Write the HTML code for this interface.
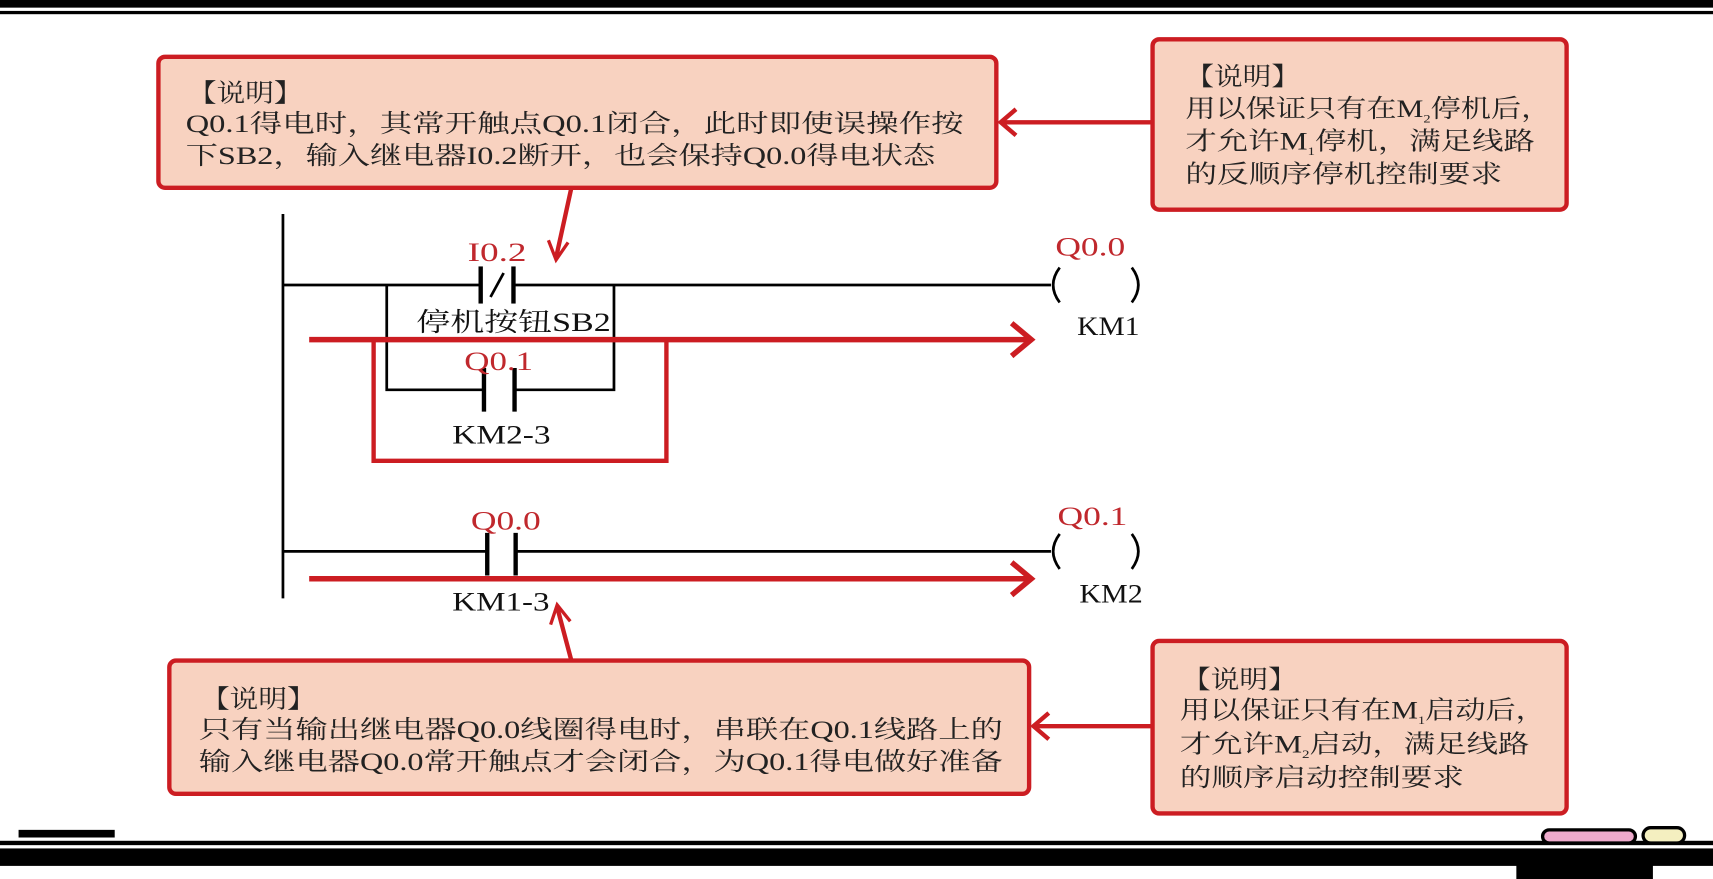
<!DOCTYPE html>
<html><head><meta charset="utf-8"><style>
html,body{margin:0;padding:0;background:#fff;}
svg{display:block;}
text{font-family:"Liberation Serif","Noto Serif CJK SC",serif;}
.b{font-size:23px;fill:#222;}
.r{font-size:24px;fill:#c0282d;}
.k{font-size:24px;fill:#111;}
</style></head><body>
<svg width="1713" height="879" viewBox="0 0 1568 805" preserveAspectRatio="none" xmlns="http://www.w3.org/2000/svg">
<!-- top bars -->
<rect x="0" y="0" width="1568" height="7" fill="#000"/>
<rect x="0" y="10" width="1568" height="3" fill="#000"/>
<!-- bottom -->
<rect x="17" y="760" width="88" height="7" fill="#000"/>
<rect x="0" y="770" width="1568" height="4" fill="#000"/>
<rect x="0" y="777" width="1568" height="16" fill="#000"/>
<rect x="1388" y="792" width="125" height="13" fill="#000"/>
<rect x="1412" y="760" width="85" height="12" rx="6" fill="#eac" stroke="#000" stroke-width="3"/>
<rect x="1504" y="758" width="38" height="14" rx="7" fill="#f4efc0" stroke="#000" stroke-width="3"/>

<!-- boxes -->
<g fill="#f8d2c0" stroke="#cc1d22" stroke-width="4">
<rect x="145" y="52" width="767" height="120" rx="6"/>
<rect x="1055" y="36" width="379" height="156" rx="6"/>
<rect x="155" y="605" width="787" height="122" rx="6"/>
<rect x="1055" y="587" width="379" height="158" rx="6"/>
</g>
<g class="b">
<text x="172" y="93" textLength="105" lengthAdjust="spacingAndGlyphs">【说明】</text>
<text x="170" y="121" textLength="712" lengthAdjust="spacingAndGlyphs">Q0.1得电时，其常开触点Q0.1闭合，此时即使误操作按</text>
<text x="170" y="150" textLength="686" lengthAdjust="spacingAndGlyphs">下SB2，输入继电器I0.2断开，也会保持Q0.0得电状态</text>

<text x="1085" y="78" textLength="105" lengthAdjust="spacingAndGlyphs">【说明】</text>
<text x="1085" y="107" textLength="335" lengthAdjust="spacingAndGlyphs">用以保证只有在M<tspan font-size="11" dy="5">2</tspan><tspan dy="-5">停机后，</tspan></text>
<text x="1085" y="137" textLength="320" lengthAdjust="spacingAndGlyphs">才允许M<tspan font-size="11" dy="5">1</tspan><tspan dy="-5">停机，满足线路</tspan></text>
<text x="1085" y="167" textLength="290" lengthAdjust="spacingAndGlyphs">的反顺序停机控制要求</text>

<text x="184" y="648" textLength="105" lengthAdjust="spacingAndGlyphs">【说明】</text>
<text x="182" y="676" textLength="736" lengthAdjust="spacingAndGlyphs">只有当输出继电器Q0.0线圈得电时，串联在Q0.1线路上的</text>
<text x="182" y="705" textLength="736" lengthAdjust="spacingAndGlyphs">输入继电器Q0.0常开触点才会闭合，为Q0.1得电做好准备</text>

<text x="1082" y="630" textLength="105" lengthAdjust="spacingAndGlyphs">【说明】</text>
<text x="1080" y="658" textLength="335" lengthAdjust="spacingAndGlyphs">用以保证只有在M<tspan font-size="11" dy="5">1</tspan><tspan dy="-5">启动后，</tspan></text>
<text x="1080" y="689" textLength="320" lengthAdjust="spacingAndGlyphs">才允许M<tspan font-size="11" dy="5">2</tspan><tspan dy="-5">启动，满足线路</tspan></text>
<text x="1080" y="720" textLength="260" lengthAdjust="spacingAndGlyphs">的顺序启动控制要求</text>
</g>

<!-- arrows between boxes -->
<g stroke="#cc1d22" stroke-width="4" fill="none">
<line x1="1055" y1="112" x2="916" y2="112"/>
<polyline points="930,100 916,112 930,124"/>
<line x1="1055" y1="665" x2="946" y2="665"/>
<polyline points="960,653 946,665 960,677"/>
<line x1="523" y1="172" x2="509" y2="236"/>
<polyline points="502,220 509,238 520,222" stroke-width="3"/>
<line x1="523" y1="605" x2="510" y2="556"/>
<polyline points="504,572 510,554 522,569" stroke-width="3"/>
</g>

<!-- ladder -->
<g stroke="#000" stroke-width="2.5" fill="none">
<line x1="259" y1="196" x2="259" y2="548"/>
<line x1="259" y1="261" x2="440" y2="261"/>
<line x1="470" y1="261" x2="962" y2="261"/>
<line x1="440" y1="244" x2="440" y2="278" stroke-width="4"/>
<line x1="470" y1="244" x2="470" y2="278" stroke-width="4"/>
<line x1="449" y1="272" x2="461" y2="250"/>
<polyline points="354,261 354,357 443,357"/>
<polyline points="562,261 562,357 471,357"/>
<line x1="443" y1="337" x2="443" y2="377" stroke-width="4"/>
<line x1="471" y1="337" x2="471" y2="377" stroke-width="4"/>
<line x1="259" y1="505" x2="446" y2="505"/>
<line x1="472" y1="505" x2="962" y2="505"/>
<line x1="446" y1="488" x2="446" y2="527" stroke-width="4"/>
<line x1="472" y1="488" x2="472" y2="527" stroke-width="4"/>
<path d="M970,245 Q958,261 970,277"/>
<path d="M1036,245 Q1048,261 1036,277"/>
<path d="M970,489 Q958,505 970,521"/>
<path d="M1036,489 Q1048,505 1036,521"/>
</g>
<g class="r">
<text x="428" y="239" textLength="54" lengthAdjust="spacingAndGlyphs">I0.2</text>
<text x="966" y="234" textLength="64" lengthAdjust="spacingAndGlyphs">Q0.0</text>
<text x="425" y="339" textLength="63" lengthAdjust="spacingAndGlyphs">Q0.1</text>
<text x="431" y="485" textLength="64" lengthAdjust="spacingAndGlyphs">Q0.0</text>
<text x="968" y="481" textLength="64" lengthAdjust="spacingAndGlyphs">Q0.1</text>
</g>
<g class="k">
<text x="381" y="303" textLength="178" lengthAdjust="spacingAndGlyphs">停机按钮SB2</text>
<text x="986" y="307" textLength="57" lengthAdjust="spacingAndGlyphs">KM1</text>
<text x="414" y="406" textLength="90" lengthAdjust="spacingAndGlyphs">KM2-3</text>
<text x="414" y="559" textLength="89" lengthAdjust="spacingAndGlyphs">KM1-3</text>
<text x="988" y="552" textLength="58" lengthAdjust="spacingAndGlyphs">KM2</text>
</g>

<!-- red overlays -->
<g stroke="#cc1d22" fill="none">
<polyline points="342,313 342,422 610,422 610,313" stroke-width="4"/>
<line x1="283" y1="311" x2="942" y2="311" stroke-width="5"/>
<polyline points="926,296 944,311 926,326" stroke-width="5"/>
<line x1="283" y1="530" x2="942" y2="530" stroke-width="5"/>
<polyline points="926,515 944,530 926,545" stroke-width="5"/>
</g>
</svg>
</body></html>
